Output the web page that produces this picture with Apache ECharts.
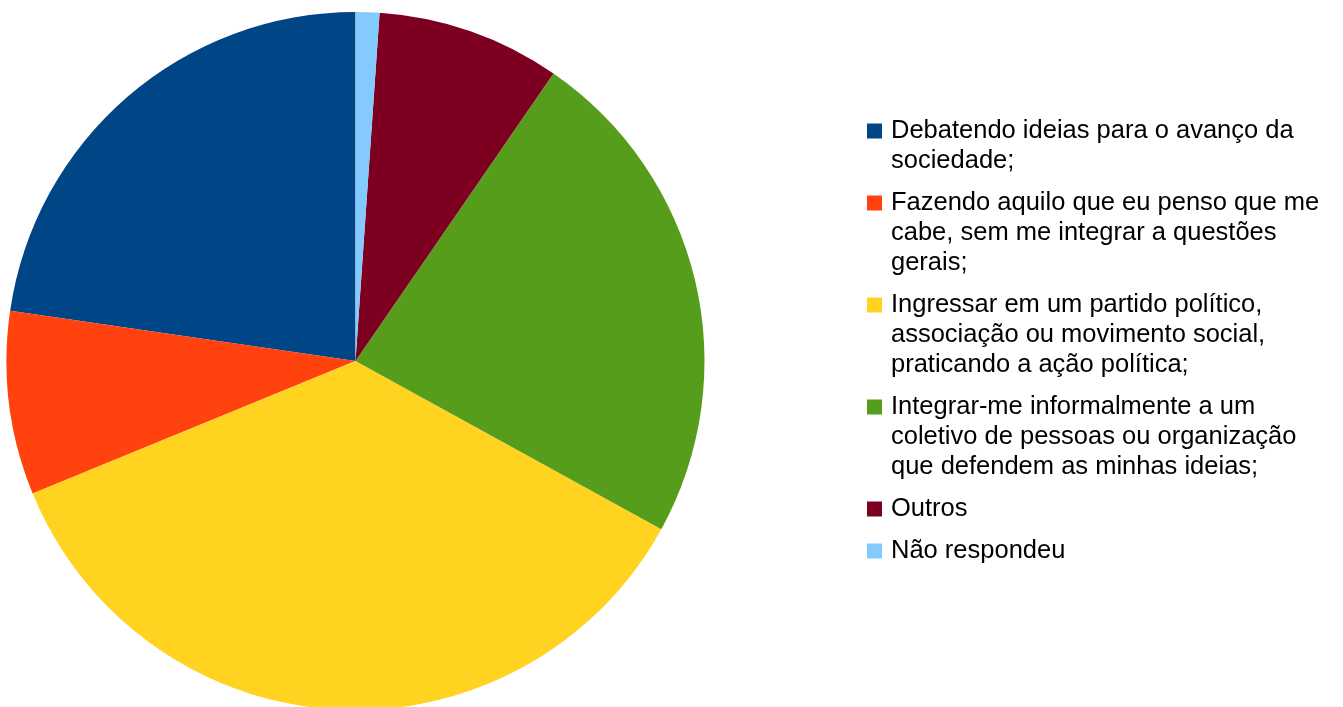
<!DOCTYPE html>
<html>
<head>
<meta charset="utf-8">
<script src="https://cdn.jsdelivr.net/npm/echarts@6/dist/echarts.min.js"></script>
<style>
html,body{margin:0;padding:0;background:#fff;}
#chart{width:1343px;height:707px;}
</style>
</head>
<body>
<div id="chart"></div>
<script>
// ---- data ----
const categories = [
  'Debatendo ideias para o avanço da sociedade;',
  'Fazendo aquilo que eu penso que me cabe, sem me integrar a questões gerais;',
  'Ingressar em um partido político, associação ou movimento social, praticando a ação política;',
  'Integrar-me informalmente a um coletivo de pessoas ou organização que defendem as minhas ideias;',
  'Outros',
  'Não respondeu'
];
const values = [22.7, 8.5, 35.8, 23.4, 8.5, 1.1];
const colors = ['#004586', '#ff420e', '#ffd320', '#579d1c', '#7e0021', '#83caff'];
const legendLines = [
  ['Debatendo ideias para o avanço da', 'sociedade;'],
  ['Fazendo aquilo que eu penso que me', 'cabe, sem me integrar a questões', 'gerais;'],
  ['Ingressar em um partido político,', 'associação ou movimento social,', 'praticando a ação política;'],
  ['Integrar-me informalmente a um', 'coletivo de pessoas ou organização', 'que defendem as minhas ideias;'],
  ['Outros'],
  ['Não respondeu']
];

// ---- legend layout helpers (blank lines keep the icon beside the first line) ----
const LH = 30;        // legend line height
const GAP = 12;       // visual gap between legend entries
const padBottom = [0, 0, 0, 0, 2, 0];
const padTop = legendLines.map((l, i) => padBottom[i] + l.length - 1);
function legendText(name) {
  const i = categories.indexOf(name);
  const lines = [];
  for (let k = 0; k < padTop[i]; k++) lines.push('');
  legendLines[i].forEach(s => lines.push(s));
  for (let k = 0; k < padBottom[i]; k++) lines.push('');
  return lines.join('\n');
}
const firstCenter = 131;

const chart = echarts.init(document.getElementById('chart'), null, {renderer: 'canvas'});
chart.setOption({
  animation: false,
  color: colors,
  legend: {
    orient: 'vertical',
    left: 867,
    top: firstCenter - padTop[0] * LH - LH / 2,
    itemWidth: 19,
    itemHeight: 15,
    itemGap: GAP - 2 * LH,
    icon: 'path://M0,0H15V15H0ZM19,15',
    padding: 0,
    selectedMode: false,
    data: categories,
    formatter: legendText,
    textStyle: {
      fontFamily: 'Liberation Sans',
      fontSize: 25.5,
      lineHeight: LH,
      color: '#000'
    }
  },
  series: [{
    type: 'pie',
    center: [355.5, 361],
    radius: [0, 349],
    startAngle: 90,
    clockwise: false,
    avoidLabelOverlap: false,
    label: {show: false},
    labelLine: {show: false},
    emphasis: {disabled: true},
    itemStyle: {borderWidth: 0},
    data: categories.map((c, i) => ({name: c, value: values[i]}))
  }]
});
</script>
</body>
</html>
